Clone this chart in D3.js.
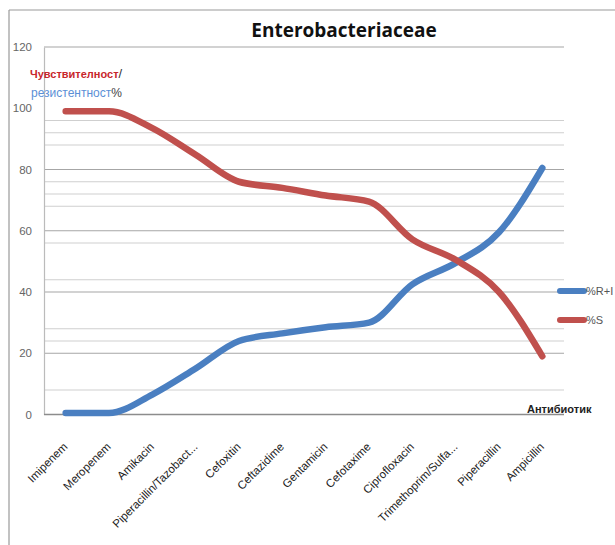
<!DOCTYPE html>
<html><head><meta charset="utf-8">
<script src="https://cdn.jsdelivr.net/npm/d3@7"></script>
<style>
html,body{margin:0;padding:0;background:#fff;}
svg{display:block;}
</style></head>
<body>
<svg id="chart" width="615" height="545"></svg>
<script>
const categories = ["Imipenem","Meropenem","Amikacin","Piperacillin/Tazobact...","Cefoxitin","Ceftazidime","Gentamicin","Cefotaxime","Ciprofloxacin","Trimethoprim/Sulfa...","Piperacillin","Ampicillin"];
const seriesRI = [0.5,0.5,6.5,15,24,26.5,28.5,30,42.5,49.5,59.5,80.5];
const seriesS  = [99,99,93.5,84.8,76,74,71.5,69.5,57.2,50.5,40,19];
const seriesNames = ["%R+I","%S"];
const seriesColors = ["#4a7fc1","#c0504d"];
const yTicks = [0,20,40,60,80,100,120];
const majorGrid = [20,40,60,80,120];
const minorGrid = [8,24,28,44,56,68,72,76,88,92,96];

const svg = d3.select("#chart");
const narrow = "'Liberation Sans Narrow','Arial Narrow','Liberation Sans',sans-serif";

// outer frame
svg.append("line").attr("x1",9).attr("y1",10).attr("x2",615).attr("y2",10).attr("stroke","#999").attr("stroke-width",1.2);
svg.append("line").attr("x1",9).attr("y1",10).attr("x2",9).attr("y2",545).attr("stroke","#999").attr("stroke-width",1.2);

const L=44, R=564, T=47, B=414.5;
const x = d3.scalePoint().domain(categories).range([L,R]).padding(0.5);
const y = d3.scaleLinear().domain([0,120]).range([B,T]);

// gridlines
svg.append("g").selectAll("line").data(minorGrid).join("line")
  .attr("x1",L).attr("x2",R).attr("y1",d=>y(d)).attr("y2",d=>y(d))
  .attr("stroke","#cfcfcf").attr("stroke-width",1.2);
svg.append("g").selectAll("line").data(majorGrid).join("line")
  .attr("x1",L).attr("x2",R).attr("y1",d=>y(d)).attr("y2",d=>y(d))
  .attr("stroke","#a6a6a6").attr("stroke-width",1.2);

// y axis
const yAxis = svg.append("g").attr("transform",`translate(${L},0)`)
  .call(d3.axisLeft(y).tickValues(yTicks).tickSize(0).tickPadding(12));
yAxis.select(".domain").attr("stroke","#bbb").attr("stroke-width",1.2);
yAxis.selectAll("text").attr("font-family",narrow).attr("font-size",11.5).attr("fill","#666");

// x axis
const xAxis = svg.append("g").attr("transform",`translate(0,${B})`)
  .call(d3.axisBottom(x).tickSize(0).tickPadding(0));
xAxis.select(".domain").attr("d",`M${L},0H${R}`).attr("stroke","#8c8c8c").attr("stroke-width",1.3);
xAxis.selectAll("text")
  .attr("font-family",narrow).attr("font-size",11.5).attr("fill","#222")
  .attr("text-anchor","end")
  .attr("y",null).attr("dy",null)
  .attr("transform","translate(2,33) rotate(-45)");

// lines
const line = d3.line().x((d,i)=>x(categories[i])).y(d=>y(d)).curve(d3.curveMonotoneX);
[seriesRI, seriesS].forEach((s,k)=>{
  svg.append("path").datum(s).attr("d",line).attr("fill","none")
    .attr("stroke",seriesColors[k]).attr("stroke-width",6.5)
    .attr("stroke-linecap","round").attr("stroke-linejoin","round");
});

// legend
seriesNames.forEach((n,k)=>{
  const ly = 291 + k*29;
  svg.append("line").attr("x1",560).attr("x2",584).attr("y1",ly).attr("y2",ly)
    .attr("stroke",seriesColors[k]).attr("stroke-width",6).attr("stroke-linecap","round");
  svg.append("text").attr("x",586).attr("y",ly).attr("dy","0.35em")
    .attr("font-family",narrow).attr("font-size",11).attr("fill","#555").text(n);
});

// title
svg.append("text").attr("x",344).attr("y",37).attr("text-anchor","middle")
  .attr("font-family","'Open Sans','Liberation Sans',sans-serif").attr("font-weight","bold")
  .attr("font-size",19).attr("fill","#111").text("Enterobacteriaceae");

// axis titles
const t1 = svg.append("text").attr("x",30).attr("y",78).attr("font-family",narrow).attr("font-size",11);
t1.append("tspan").attr("fill","#c8262c").attr("font-weight","bold").text("Чувствителност");
t1.append("tspan").attr("fill","#333").attr("font-size",13).text("/");
const t2 = svg.append("text").attr("x",31).attr("y",97).attr("font-family",narrow).attr("font-size",12);
t2.append("tspan").attr("fill","#5b8fd6").text("резистентност");
t2.append("tspan").attr("fill","#444").text("%");

svg.append("text").attr("x",527).attr("y",413).attr("font-family",narrow).attr("font-weight","bold")
  .attr("font-size",11).attr("fill","#222").text("Антибиотик");
</script>
</body></html>
